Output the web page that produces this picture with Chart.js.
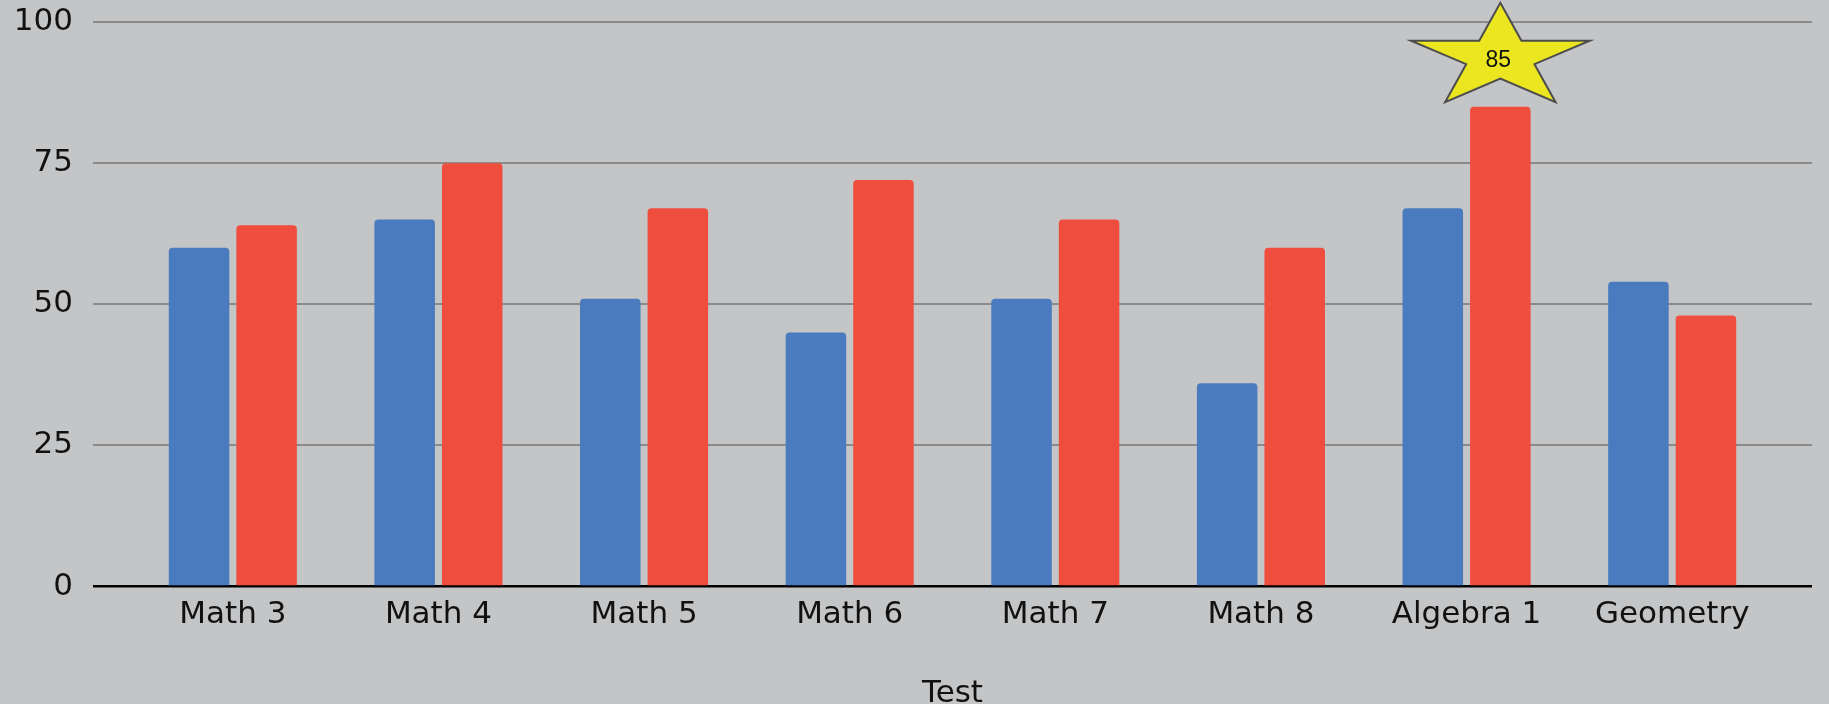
<!DOCTYPE html>
<html>
<head>
<meta charset="utf-8">
<script src="https://cdn.jsdelivr.net/npm/chart.js@4"></script>
<style>
  html, body { margin: 0; padding: 0; background: #c4c5c7; overflow: hidden; }
  #wrap { width: 1829px; height: 713px; position: relative; }
</style>
</head>
<body>
<div id="wrap"><canvas id="scoreChart"></canvas></div>
<script>
// chart data
const tests = ['Math 3', 'Math 4', 'Math 5', 'Math 6', 'Math 7', 'Math 8', 'Algebra 1', 'Geometry'];
const blueScores = [60, 65, 51, 45, 51, 36, 67, 54];
const redScores = [64, 75, 67, 72, 65, 60, 85, 48];
const yTicks = [0, 25, 50, 75, 100];
const xTitle = 'Test';

const FONT = '"DejaVu Sans", sans-serif';
const GRID = '#8a8a8a';

// star drawn over the highest red bar, with its value inside
const starPlugin = {
    id: 'topStar',
    afterDatasetsDraw(chart) {
        const idx = redScores.indexOf(Math.max(...redScores));
        const bar = chart.getDatasetMeta(1).data[idx];
        if (!bar) return;
        const ctx = chart.ctx;
        const cx = bar.x;
        const cy = bar.y - 49;
        const rx = 94, ry = 55, inner = 0.382;

        ctx.save();
        ctx.beginPath();
        for (let i = 0; i < 10; i++) {
            const a = (-90 + i * 36) * Math.PI / 180;
            const r = i % 2 === 0 ? 1 : inner;
            const px = cx + rx * r * Math.cos(a);
            const py = cy + ry * r * Math.sin(a);
            if (i === 0) ctx.moveTo(px, py); else ctx.lineTo(px, py);
        }
        ctx.closePath();
        ctx.fillStyle = '#ebe620';
        ctx.fill();
        ctx.lineWidth = 2;
        ctx.strokeStyle = '#4d4d4d';
        ctx.stroke();

        ctx.fillStyle = '#111';
        ctx.font = '23px "Liberation Sans", Arial, sans-serif';
        ctx.textAlign = 'center';
        ctx.textBaseline = 'middle';
        ctx.fillText(String(redScores[idx]), cx - 2, cy + 3);
        ctx.restore();
    }
};

const lineColor = (c) => (c.tick && c.tick.value === 0 ? '#000' : GRID);
const lineWidth = (c) => (c.tick && c.tick.value === 0 ? 2.5 : 2);

const ctx = document.getElementById('scoreChart').getContext('2d');
const chart = new Chart(ctx, {
    type: 'bar',
    data: {
        labels: tests,
        datasets: [{
            label: 'Blue',
            data: blueScores,
            backgroundColor: '#4a7bbf',
            borderRadius: 4,
            categoryPercentage: 0.657,
            barPercentage: 0.896
        }, {
            label: 'Red',
            data: redScores,
            backgroundColor: '#ef4e3f',
            borderRadius: 4,
            categoryPercentage: 0.657,
            barPercentage: 0.896
        }]
    },
    options: {
        responsive: true,
        maintainAspectRatio: false,
        animation: false,
        layout: { padding: { left: 0, right: 17, top: 22, bottom: 0 } },
        plugins: {
            legend: { display: false },
            tooltip: { enabled: false },
            title: { display: false }
        },
        scales: {
            x: {
                grid: { display: false, drawTicks: false },
                border: { display: false },
                ticks: { color: '#111', font: { family: FONT, size: 31 }, padding: 10, maxRotation: 0 },
                title: {
                    display: true,
                    text: xTitle,
                    color: '#111',
                    font: { family: FONT, size: 31 },
                    padding: { top: 32, bottom: 0 }
                }
            },
            y: {
                position: 'left',
                min: 0,
                max: 100,
                afterBuildTicks: (s) => { s.ticks = yTicks.map(v => ({ value: v })); },
                afterFit: (s) => { s.width = 130; s.paddingTop = 0; s.paddingBottom = 0; },
                grid: { color: lineColor, tickColor: lineColor, lineWidth: lineWidth, tickLength: 37 },
                border: { display: false },
                ticks: { color: '#111', font: { family: FONT, size: 31 }, padding: 20 }
            },
            yRight: {
                position: 'right',
                min: 0,
                max: 100,
                afterBuildTicks: (s) => { s.ticks = yTicks.map(v => ({ value: v })); },
                afterFit: (s) => { s.width = 37; s.paddingTop = 0; s.paddingBottom = 0; },
                grid: { drawOnChartArea: false, tickColor: lineColor, lineWidth: lineWidth, tickLength: 37 },
                border: { display: false },
                ticks: { display: false }
            }
        }
    },
    plugins: [starPlugin]
});
</script>
</body>
</html>
